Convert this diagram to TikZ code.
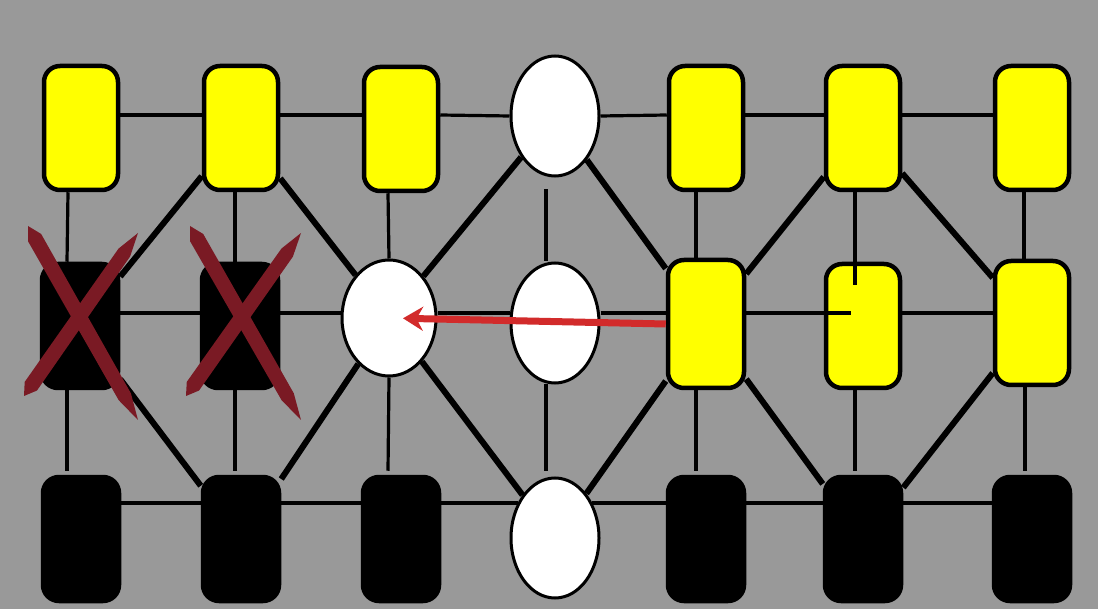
\documentclass[tikz,border=0pt]{standalone}
\usetikzlibrary{shapes.geometric,calc,arrows.meta}
\definecolor{bg}{RGB}{153,153,153}
\definecolor{xred}{RGB}{122,26,36}
\definecolor{ared}{RGB}{210,43,43}
\definecolor{yel}{RGB}{255,255,0}
\newcommand\xstroke[2]{\fill[xred] (#1) -- ($(#1)!0.06!(#2)!7.5pt!90:(#2)$) -- ($(#1)!0.88!(#2)!7pt!90:(#2)$) -- (#2) -- ($(#1)!0.88!(#2)!7pt!-90:(#2)$) -- ($(#1)!0.06!(#2)!7.5pt!-90:(#2)$) -- cycle;}
\begin{document}
\begin{tikzpicture}[x=1pt,y=-1pt,
  ybox/.style={rectangle,rounded corners=16pt,fill=yel,draw=black,line width=4.5pt,minimum width=74pt,minimum height=124pt,inner sep=0pt},
  kbox/.style={ybox,fill=black,minimum width=76pt},
  wnode/.style={ellipse,fill=white,draw=black,line width=3pt,inner sep=0pt,minimum width=88pt,minimum height=120pt},
  hline/.style={line width=3.2pt},
  tline/.style={line width=6pt}]
\useasboundingbox (0,0) rectangle (1098,609);
\fill[bg] (0,0) rectangle (1098,609);
% top row
\node[ybox] (t1) at (81,128) {};
\node[ybox] (t2) at (241,128) {};
\node[ybox] (t3) at (401,129) {};
\node[wnode] (t4) at (555,116) {};
\node[ybox] (t5) at (706,128) {};
\node[ybox] (t6) at (863,128) {};
\node[ybox] (t7) at (1032,128) {};
% middle row
\node[kbox] (m1) at (80,326) {};
\node[kbox] (m2) at (240,326) {};
\node[wnode,minimum width=94pt,minimum height=116pt] (m3) at (389,318) {};
\node[wnode] (m4) at (555,323) {};
\node[ybox,minimum width=76pt,minimum height=128pt] (m5) at (706,324) {};
\node[ybox] (m6) at (863,326) {};
\node[ybox] (m7) at (1032,323) {};
% bottom row
\node[kbox] (b1) at (81,539) {};
\node[kbox] (b2) at (241,539) {};
\node[kbox] (b3) at (401,539) {};
\node[wnode] (b4) at (555,538) {};
\node[kbox] (b5) at (706,539) {};
\node[kbox] (b6) at (863,539) {};
\node[kbox] (b7) at (1032,539) {};
% horizontal thin lines
\draw[hline] ($(t1.east)+(0,-13)$) -- ($(t2.west)+(0,-13)$);
\draw[hline] ($(t2.east)+(0,-13)$) -- ($(t3.west)+(0,-14)$);
\draw[hline] ($(t3.east)+(0,-14)$) -- (t4.west);
\draw[hline] (t4.east) -- ($(t5.west)+(0,-13)$);
\draw[hline] ($(t5.east)+(0,-13)$) -- ($(t6.west)+(0,-13)$);
\draw[hline] ($(t6.east)+(0,-13)$) -- ($(t7.west)+(0,-13)$);
\draw[hline] ($(m1.east)+(0,-13)$) -- ($(m2.west)+(0,-13)$);
\draw[hline] ($(m2.east)+(0,-13)$) -- ($(m3.west)+(0,-5)$);
\draw[hline] ($(m3.east)+(0,-5)$) -- ($(m4.west)+(0,-10)$);
\draw[hline] ($(m4.east)+(0,-10)$) -- ($(m5.west)+(0,-11)$);
\draw[hline] ($(m5.east)+(0,-11)$) -- ($(m6.west)+(27,-13)$);
\draw[hline] ($(m6.east)+(0,-13)$) -- ($(m7.west)+(0,-10)$);
\draw[hline] ($(b1.east)+(0,-36)$) -- ($(b2.west)+(0,-36)$);
\draw[hline] ($(b2.east)+(0,-36)$) -- ($(b3.west)+(0,-36)$);
\draw[hline] ($(b3.east)+(0,-36)$) -- ($(b4.center)+(-37,-35)$);
\draw[hline] ($(b4.center)+(37,-35)$) -- ($(b5.west)+(0,-36)$);
\draw[hline] ($(b5.east)+(0,-36)$) -- ($(b6.west)+(0,-36)$);
\draw[hline] ($(b6.east)+(0,-36)$) -- ($(b7.west)+(0,-36)$);
% vertical thin lines
\draw[hline] ($(t1.south)+(-13,0)$) -- ($(m1.north)+(-13,0)$);
\draw[hline] ($(t2.south)+(-6,0)$) -- ($(m2.north)+(-5,0)$);
\draw[hline] ($(t3.south)+(-13,0)$) -- (m3.north);
\draw[hline] ($(t4.south)+(-9,12)$) -- ($(m4.north)+(-9,0)$);
\draw[hline] ($(t5.south)+(-10,0)$) -- ($(m5.north)+(-10,0)$);
\draw[hline] ($(t6.south)+(-8,0)$) -- ($(m6.north)+(-8,23)$);
\draw[hline] ($(t7.south)+(-8,0)$) -- ($(m7.north)+(-8,0)$);
\draw[hline] ($(m1.south)+(-13,0)$) -- ($(b1.north)+(-14,-4)$);
\draw[hline] ($(m2.south)+(-5,0)$) -- ($(b2.north)+(-6,-4)$);
\draw[hline] (m3.south) -- ($(b3.north)+(-13,-4)$);
\draw[hline] ($(m4.south)+(-9,0)$) -- ($(b4.north)+(-9,-6)$);
\draw[hline] ($(m5.south)+(-10,0)$) -- ($(b5.north)+(-10,-4)$);
\draw[hline] ($(m6.south)+(-8,0)$) -- ($(b6.north)+(-8,-4)$);
\draw[hline] ($(m7.south)+(-7,0)$) -- ($(b7.north)+(-7,-4)$);
% thick diagonals
\draw[tline] (t2) -- (m1);
\draw[tline] (t2) -- (m3);
\draw[tline] (m1) -- (b2);
\draw[tline] (m3) -- (b2);
\draw[tline] (m3) -- (t4);
\draw[tline] (m3) -- (b4);
\draw[tline] (t4) -- (m5);
\draw[tline] (b4) -- (m5);
\draw[tline] (m5) -- (t6);
\draw[tline] (m5) -- (b6);
\draw[tline] (t6) -- (m7);
\draw[tline] (b6) -- (m7);
% red crosses
\coordinate (xa1) at (28,226);
\coordinate (xb1) at (138,420);
\coordinate (xa2) at (138,233);
\coordinate (xb2) at (24,396);
\coordinate (ya1) at (190,226);
\coordinate (yb1) at (301,420);
\coordinate (ya2) at (301,233);
\coordinate (yb2) at (186,396);
\xstroke{xa1}{xb1}
\xstroke{xb2}{xa2}
\xstroke{ya1}{yb1}
\xstroke{yb2}{ya2}
% red arrow
\draw[ared,line width=7pt,-{Stealth[length=20pt,width=24pt]},shorten >=14pt] (m5.west) -- (m3.center);
\end{tikzpicture}
\end{document}
